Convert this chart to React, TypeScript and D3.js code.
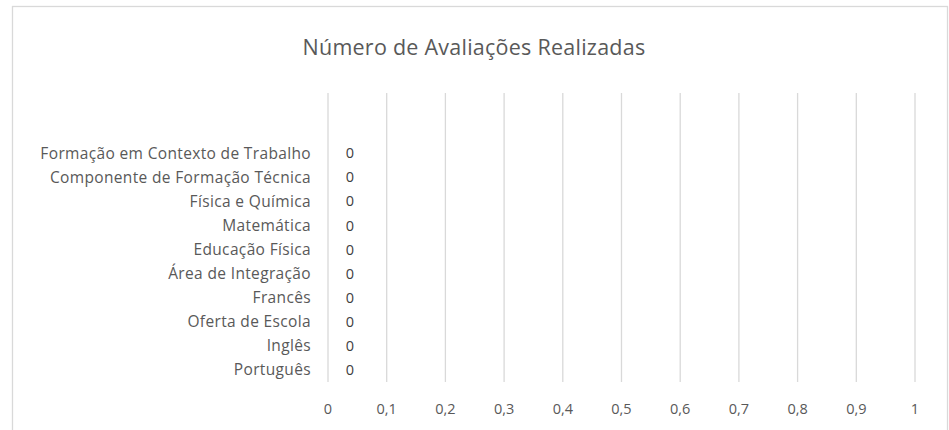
import React, { useEffect, useRef } from 'react';
import * as d3 from 'd3';

// bottom to top; the two top slots are empty categories
const categories = [
  'Português',
  'Inglês',
  'Oferta de Escola',
  'Francês',
  'Área de Integração',
  'Educação Física',
  'Matemática',
  'Física e Química',
  'Componente de Formação Técnica',
  'Formação em Contexto de Trabalho',
  '',
  '',
];
const values: (number | null)[] = [0, 0, 0, 0, 0, 0, 0, 0, 0, 0, null, null];
const xTicks = [0, 0.1, 0.2, 0.3, 0.4, 0.5, 0.6, 0.7, 0.8, 0.9, 1];
const title = 'Número de Avaliações Realizadas';

const App: React.FC = () => {
  const svgRef = useRef<SVGSVGElement | null>(null);

  useEffect(() => {
    const svg = d3.select(svgRef.current);
    svg.selectAll('*').remove();
    const font = 'Open Sans, sans-serif';
    const plot = { left: 328, right: 915, top: 93, bottom: 382 };

    svg
      .append('rect')
      .attr('x', 12.5)
      .attr('y', 6.5)
      .attr('width', 935)
      .attr('height', 460)
      .attr('fill', '#fff')
      .attr('stroke', '#d9d9d9')
      .attr('stroke-width', 1.3);

    svg
      .append('text')
      .attr('x', 474)
      .attr('y', 55)
      .attr('text-anchor', 'middle')
      .attr('font-family', font)
      .attr('font-size', 21.5)
      .attr('letter-spacing', 0.25)
      .attr('fill', '#595959')
      .text(title);

    const x = d3.scaleLinear().domain([0, 1]).range([plot.left, plot.right]);
    const y = d3
      .scaleBand<number>()
      .domain(d3.range(categories.length))
      .range([plot.bottom, plot.top]);

    // gridlines
    svg
      .append('g')
      .selectAll('line')
      .data(xTicks)
      .enter()
      .append('line')
      .attr('x1', d => x(d))
      .attr('x2', d => x(d))
      .attr('y1', plot.top)
      .attr('y2', plot.bottom)
      .attr('stroke', '#d9d9d9')
      .attr('stroke-width', 1.3);

    // x tick labels
    svg
      .append('g')
      .selectAll('text')
      .data(xTicks)
      .enter()
      .append('text')
      .attr('x', d => x(d))
      .attr('y', 414)
      .attr('text-anchor', 'middle')
      .attr('font-family', font)
      .attr('font-size', 14.5)
      .attr('fill', '#595959')
      .text(d => String(d).replace('.', ','));

    // category labels
    svg
      .append('g')
      .selectAll('text')
      .data(categories.map((c, i) => ({ c, i })).filter(d => d.c))
      .enter()
      .append('text')
      .attr('x', plot.left - 17)
      .attr('y', d => y(d.i)! + y.bandwidth() / 2)
      .attr('dy', '0.35em')
      .attr('text-anchor', 'end')
      .attr('font-family', font)
      .attr('font-size', 15.5)
      .attr('letter-spacing', 0.35)
      .attr('fill', '#595959')
      .text(d => d.c);

    // bars (zero width) and data labels
    const vals = values.map((v, i) => ({ v, i })).filter(d => d.v !== null) as { v: number; i: number }[];
    svg
      .append('g')
      .selectAll('rect')
      .data(vals)
      .enter()
      .append('rect')
      .attr('x', x(0))
      .attr('y', d => y(d.i)! + y.bandwidth() * 0.2)
      .attr('height', y.bandwidth() * 0.6)
      .attr('width', d => x(d.v) - x(0))
      .attr('fill', '#4472c4');

    svg
      .append('g')
      .selectAll('text')
      .data(vals)
      .enter()
      .append('text')
      .attr('x', d => x(d.v) + 22)
      .attr('y', d => y(d.i)! + y.bandwidth() / 2)
      .attr('dy', '0.35em')
      .attr('text-anchor', 'middle')
      .attr('font-family', font)
      .attr('font-size', 14.5)
      .attr('fill', '#404040')
      .text(d => String(d.v));
  }, []);

  return (
    <div>
      <svg
        ref={svgRef}
        width={949}
        height={430}
        style={{ position: 'absolute', left: 0, top: 0, display: 'block' }}
      ></svg>
    </div>
  );
};

export default App;
